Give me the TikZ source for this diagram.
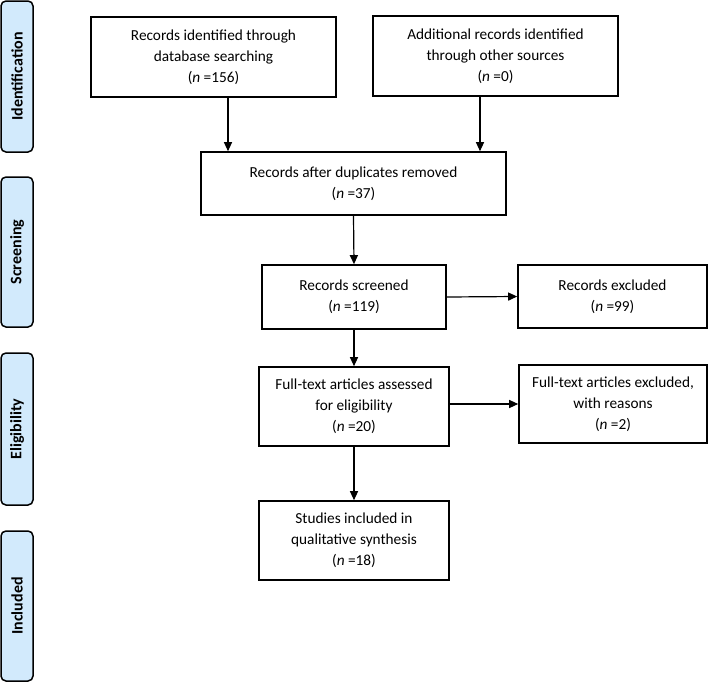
\documentclass[tikz,border=0pt]{standalone}
\usepackage{fontspec}
\setmainfont{Carlito}
\usetikzlibrary{arrows.meta,positioning,calc}

\definecolor{phasefill}{HTML}{D2EAFC}

\tikzset{
  flowbox/.style={draw,line width=1.6pt,align=center,inner sep=2pt,
    font=\fontsize{15.3}{21}\selectfont},
  phasebar/.style={draw,line width=1.5pt,fill=phasefill,rounded corners=5pt,
    minimum height=32pt,rotate=90,font=\fontsize{16}{18}\selectfont\bfseries},
  arr/.style={-{Triangle[length=9pt,width=8pt]},line width=1.2pt}
}

\begin{document}
\begin{tikzpicture}[x=1pt,y=-1pt]
  \useasboundingbox (0,0) rectangle (710,683);
  % phase bars on the left
  \node[phasebar,minimum width=151pt] (pid)  at (17,76.5) {Identification};
  \node[phasebar,minimum width=150pt] (pscr) at (17,252)  {Screening};
  \node[phasebar,minimum width=152pt] (pel)  at (17,429)  {Eligibility};
  \node[phasebar,minimum width=150pt] (pinc) at (17,606)  {Included};
  % boxes
  \node[flowbox,minimum width=245pt,minimum height=80pt] (id1) at (213.5,57)
    {Records identified through\\database searching\\(\textit{n} =156)};
  \node[flowbox,minimum width=245pt,minimum height=80pt] (id2) at (495.5,56)
    {Additional records identified\\through other sources\\(\textit{n} =0)};
  \node[flowbox,minimum width=305pt,minimum height=63pt] (dup) at (353.5,183.5)
    {Records after duplicates removed\\(\textit{n} =37)};
  \node[flowbox,minimum width=184pt,minimum height=64pt] (scr) at (354,297)
    {Records screened\\(\textit{n} =119)};
  \node[flowbox,minimum width=189pt,minimum height=63pt] (exc) at (612.5,296.5)
    {Records excluded\\(\textit{n} =99)};
  \node[flowbox,minimum width=190pt,minimum height=79pt] (full) at (354,406.5)
    {Full-text articles assessed\\for eligibility\\(\textit{n} =20)};
  \node[flowbox,minimum width=188pt,minimum height=78pt] (fexc) at (613,404)
    {Full-text articles excluded,\\with reasons\\(\textit{n} =2)};
  \node[flowbox,minimum width=190pt,minimum height=79pt] (incl) at (354,540.5)
    {Studies included in\\qualitative synthesis\\(\textit{n} =18)};
  % connectors
  \coordinate (a1) at ([xshift=14.5pt]id1.south);
  \coordinate (a2) at ([xshift=-15.5pt]id2.south);
  \draw[arr] (a1) -- (a1 |- dup.north);
  \draw[arr] (a2) -- (a2 |- dup.north);
  \draw[arr] (dup.south) -- (scr.north);
  \draw[arr] (scr.east) -- (exc.west);
  \draw[arr] (scr.south) -- (full.north);
  \draw[arr] (full.east |- fexc.west) -- (fexc.west);
  \draw[arr] (full.south) -- (incl.north);
\end{tikzpicture}
\end{document}
